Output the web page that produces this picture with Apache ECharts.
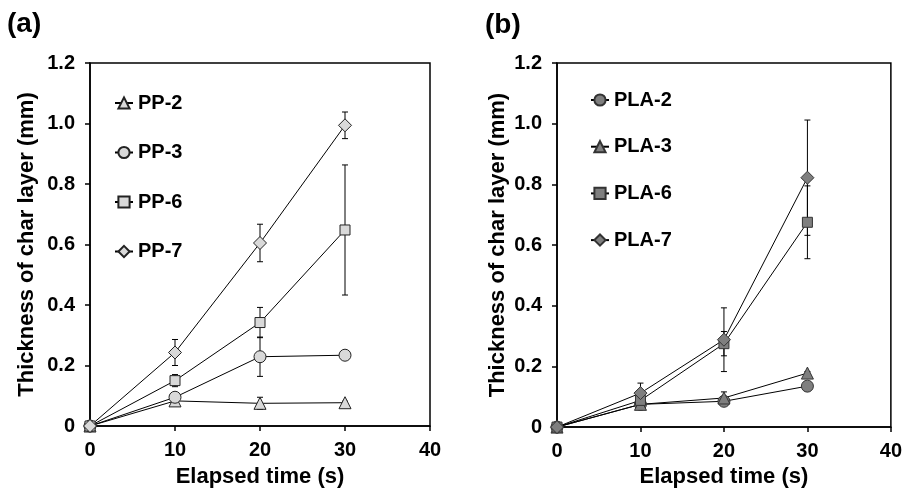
<!DOCTYPE html>
<html><head><meta charset="utf-8">
<script src="https://cdn.jsdelivr.net/npm/echarts@6/dist/echarts.min.js"></script>
<style>html,body{margin:0;padding:0;background:#fff}#c{width:905px;height:493px}</style>
</head><body><div id="c"></div>
<script>
const times = [0, 10, 20, 30];

const ppNames = ['PP-2', 'PP-3', 'PP-6', 'PP-7'];
const pp2 = [0, 0.083, 0.075, 0.077];
const pp2Err = [0, 0.005, 0.02, 0.005];
const pp3 = [0, 0.095, 0.229, 0.234];
const pp3Err = [0, 0.01, 0.065, 0.008];
const pp6 = [0, 0.150, 0.342, 0.648];
const pp6Err = [0, 0.02, 0.05, 0.215];
const pp7 = [0, 0.243, 0.605, 0.994];
const pp7Err = [0, 0.043, 0.062, 0.044];

const plaNames = ['PLA-2', 'PLA-3', 'PLA-6', 'PLA-7'];
const pla2 = [0, 0.075, 0.085, 0.135];
const pla2Err = [0, 0.005, 0.01, 0.015];
const pla3 = [0, 0.075, 0.096, 0.178];
const pla3Err = [0, 0.005, 0.02, 0.005];
const pla6 = [0, 0.088, 0.275, 0.675];
const pla6Err = [0, 0.01, 0.04, 0.12];
const pla7 = [0, 0.112, 0.288, 0.822];
const pla7Err = [0, 0.033, 0.105, 0.19];

const xTicks = [0, 10, 20, 30, 40];
const yTicks = [0, 0.2, 0.4, 0.6, 0.8, 1.0, 1.2];

const FONT = 'Liberation Sans, Arial, sans-serif';
const chart = echarts.init(document.getElementById('c'), null, {renderer: 'canvas'});

function mkAxes(idx, yNameGap, yLabelMargin, xNameGap) {
  const x = {
    gridIndex: idx, type: 'value', min: xTicks[0], max: xTicks[xTicks.length - 1], interval: 10,
    name: 'Elapsed time (s)', nameLocation: 'middle', nameGap: xNameGap,
    nameTextStyle: {fontFamily: FONT, fontWeight: 'bold', fontSize: 22, color: '#000'},
    axisLine: {show: true, lineStyle: {color: '#000', width: 1.5}},
    axisTick: {show: true, inside: false, length: 5, lineStyle: {color: '#000', width: 1.5}},
    axisLabel: {fontFamily: FONT, fontWeight: 'bold', fontSize: 20, color: '#000', margin: 14},
    splitLine: {show: false}
  };
  const y = {
    gridIndex: idx, type: 'value', min: yTicks[0], max: yTicks[yTicks.length - 1], interval: 0.2,
    name: 'Thickness of char layer (mm)', nameLocation: 'middle', nameGap: yNameGap,
    nameTextStyle: {fontFamily: FONT, fontWeight: 'bold', fontSize: 22, color: '#000'},
    axisLine: {show: true, lineStyle: {color: '#000', width: 1.5}},
    axisTick: {show: true, inside: false, length: 5, lineStyle: {color: '#000', width: 1.5}},
    axisLabel: {fontFamily: FONT, fontWeight: 'bold', fontSize: 20, color: '#000', margin: yLabelMargin,
      formatter: v => v === 0 ? '0' : v.toFixed(1)},
    splitLine: {show: false}
  };
  return [x, y];
}

const ax0 = mkAxes(0, 52, 15, 40);
const ax1 = mkAxes(1, 48, 15, 36);

function lineSeries(name, vals, idx, symbol, size, fill, border) {
  return {
    name: name, type: 'line', xAxisIndex: idx, yAxisIndex: idx,
    data: times.map((t, i) => [t, vals[i]]),
    symbol: symbol, symbolSize: size, showAllSymbol: true,
    lineStyle: {color: '#000', width: 1},
    itemStyle: {color: fill, borderColor: border, borderWidth: 1},
    z: 3
  };
}

function errSeries(vals, errs, idx) {
  return {
    type: 'custom', xAxisIndex: idx, yAxisIndex: idx, silent: true, z: 1,
    data: times.map((t, i) => [t, vals[i] - errs[i], vals[i] + errs[i]]).filter((d, i) => errs[i] > 0),
    renderItem: function (params, api) {
      const lo = api.coord([api.value(0), api.value(1)]);
      const hi = api.coord([api.value(0), api.value(2)]);
      const w = 3;
      const st = {stroke: '#000', lineWidth: 1};
      return {type: 'group', children: [
        {type: 'line', shape: {x1: lo[0], y1: lo[1], x2: hi[0], y2: hi[1]}, style: st},
        {type: 'line', shape: {x1: lo[0] - w, y1: lo[1], x2: lo[0] + w, y2: lo[1]}, style: st},
        {type: 'line', shape: {x1: hi[0] - w, y1: hi[1], x2: hi[0] + w, y2: hi[1]}, style: st}
      ]};
    }
  };
}

const lightFill = '#d9d9d9', lightBorder = '#222';
const darkFill = '#7f7f7f', darkBorder = '#333';

const series = [
  errSeries(pp2, pp2Err, 0), errSeries(pp3, pp3Err, 0), errSeries(pp6, pp6Err, 0), errSeries(pp7, pp7Err, 0),
  lineSeries(ppNames[0], pp2, 0, 'triangle', 12, lightFill, lightBorder),
  lineSeries(ppNames[1], pp3, 0, 'circle', 12, lightFill, lightBorder),
  lineSeries(ppNames[2], pp6, 0, 'rect', 10, lightFill, lightBorder),
  lineSeries(ppNames[3], pp7, 0, 'diamond', 13, lightFill, lightBorder),
  errSeries(pla2, pla2Err, 1), errSeries(pla3, pla3Err, 1), errSeries(pla6, pla6Err, 1), errSeries(pla7, pla7Err, 1),
  lineSeries(plaNames[0], pla2, 1, 'circle', 12, darkFill, darkBorder),
  lineSeries(plaNames[1], pla3, 1, 'triangle', 12, darkFill, darkBorder),
  lineSeries(plaNames[2], pla6, 1, 'rect', 10, darkFill, darkBorder),
  lineSeries(plaNames[3], pla7, 1, 'diamond', 13, darkFill, darkBorder)
];

function mkLegend(names, left, top, gap) {
  return {
    data: names, orient: 'vertical', left: left, top: top, itemGap: gap,
    itemWidth: 18, itemHeight: 14, itemTextGap: 1, selectedMode: false, padding: 0,
    textStyle: {fontFamily: FONT, fontWeight: 'bold', fontSize: 20, color: '#000', lineHeight: 20}
  };
}

chart.setOption({
  animation: false,
  backgroundColor: '#fff',
  title: [
    {text: '(a)', left: 7, top: 10, padding: 0, textStyle: {fontFamily: FONT, fontWeight: 'bold', fontSize: 28, color: '#000'}},
    {text: '(b)', left: 485, top: 11, padding: 0, textStyle: {fontFamily: FONT, fontWeight: 'bold', fontSize: 28, color: '#000'}}
  ],
  grid: [
    {left: 90, top: 63, width: 340, height: 365, show: true, borderColor: '#000', borderWidth: 1.5, backgroundColor: 'transparent'},
    {left: 557, top: 63, width: 338, height: 371, show: true, borderColor: '#000', borderWidth: 1.5, backgroundColor: 'transparent'}
  ],
  xAxis: [ax0[0], ax1[0]],
  yAxis: [ax0[1], ax1[1]],
  legend: [mkLegend(ppNames, 114, 93, 29.5), mkLegend(plaNames, 590, 90, 26.7)],
  series: series
});
</script></body></html>
